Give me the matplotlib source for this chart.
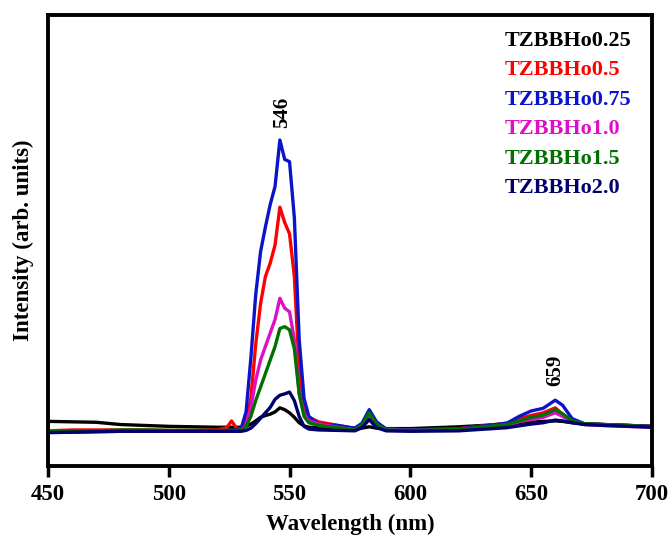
import matplotlib
matplotlib.use('Agg')
import matplotlib.pyplot as plt

plt.rcParams['font.family'] = ['Liberation Serif', 'DejaVu Serif']
plt.rcParams['font.weight'] = 'bold'

# comprimento de onda (nm)
wl = [450, 460, 470, 480, 490, 500, 510, 520, 524, 526, 528, 530, 532, 534,
      536, 538, 540, 542, 544, 546, 548, 550, 552, 554, 556, 558, 562, 570,
      577, 580, 583, 586, 590, 600, 620, 640, 645, 650, 655, 660, 663, 667,
      672, 680, 690, 700]

# intensidades (u.a.)
ho025 = [9.9, 9.8, 9.7, 9.2, 9.0, 8.8, 8.7, 8.6, 8.6, 8.6, 8.6, 8.6, 8.8, 9.3,
         10.0, 10.8, 11.2, 11.5, 12.0, 12.9, 12.5, 11.8, 10.8, 9.6, 8.9, 8.6,
         8.5, 8.4, 8.3, 8.4, 8.7, 8.4, 8.3, 8.3, 8.7, 9.3, 9.5, 9.7, 9.9, 10.0,
         9.9, 9.6, 9.4, 9.2, 9.0, 8.8]
ho05 = [7.8, 8.0, 8.0, 8.0, 8.0, 7.9, 7.9, 8.0, 8.5, 10.0, 8.4, 8.2, 10.0,
        15.0, 27.0, 36.0, 42.0, 45.0, 49.0, 57.4, 54.0, 51.5, 42.0, 21.0, 13.0,
        10.8, 9.8, 9.0, 8.3, 9.3, 11.5, 9.5, 8.2, 8.0, 8.3, 9.5, 10.5, 11.2,
        11.8, 12.9, 11.5, 10.0, 9.3, 9.2, 9.0, 8.8]
ho075 = [7.6, 7.5, 7.7, 7.8, 7.8, 7.8, 7.8, 7.8, 7.8, 7.9, 8.0, 8.4, 12.0,
         24.0, 38.0, 47.5, 53.0, 58.0, 62.0, 72.3, 68.0, 67.5, 55.0, 28.0,
         15.0, 11.0, 9.3, 9.0, 8.4, 9.5, 12.5, 9.8, 8.2, 8.0, 8.2, 9.5, 11.0,
         12.2, 12.8, 14.6, 13.5, 10.5, 9.4, 9.2, 9.0, 8.8]
ho10 = [7.5, 7.5, 7.6, 7.7, 7.7, 7.7, 7.7, 7.7, 7.7, 7.8, 7.8, 8.0, 9.0, 13.0,
        19.0, 23.5, 26.5, 29.5, 32.5, 37.2, 35.0, 34.2, 28.0, 16.0, 11.5,
        10.0, 9.3, 8.6, 8.0, 9.0, 11.0, 9.0, 8.0, 7.9, 8.0, 9.0, 9.8, 10.3,
        10.8, 11.8, 11.0, 9.8, 9.2, 9.0, 8.8, 8.6]
ho15 = [7.6, 7.7, 7.8, 8.0, 8.0, 7.9, 7.9, 7.9, 7.9, 7.9, 7.9, 8.0, 8.8, 11.0,
        14.5, 17.5, 20.5, 23.5, 26.5, 30.5, 30.9, 30.2, 26.0, 16.0, 11.0, 9.6,
        9.0, 8.5, 8.0, 9.2, 11.8, 9.3, 8.0, 7.9, 8.1, 9.2, 10.0, 10.8, 11.3,
        12.5, 11.6, 10.0, 9.4, 9.2, 9.0, 8.7]
ho20 = [7.4, 7.5, 7.6, 7.7, 7.7, 7.7, 7.7, 7.7, 7.7, 7.7, 7.7, 7.7, 7.9, 8.4,
        9.4, 10.6, 11.8, 13.0, 14.8, 15.7, 16.0, 16.4, 14.5, 11.0, 8.8, 8.2,
        8.0, 7.9, 7.8, 8.5, 10.3, 8.5, 7.8, 7.7, 7.8, 8.5, 8.9, 9.3, 9.6, 10.2,
        10.0, 9.6, 9.2, 9.0, 8.8, 8.6]

series = [ho025, ho05, ho075, ho10, ho15, ho20]
labels = ['TZBBHo0.25', 'TZBBHo0.5', 'TZBBHo0.75', 'TZBBHo1.0',
          'TZBBHo1.5', 'TZBBHo2.0']
colors = ['#000000', '#ff0000', '#0a14c8', '#dd10c8', '#007000', '#00006e']

# picos anotados
peaks = [546, 659]
peak_y = [75, 17.7]

fig = plt.figure(figsize=(6.71, 5.40), dpi=100)
ax = fig.add_axes([0.0715, 0.137, 0.900, 0.835])

for y, lb, c in zip(series, labels, colors):
    ax.plot(wl, y, color=c, linewidth=2.4, label=lb)

for xp, yp in zip(peaks, peak_y):
    ax.text(xp + 1.1, yp, str(xp), rotation=90, ha='center', va='bottom',
            fontsize=15, fontweight='bold')

ax.set_xlim(450, 700)
ax.set_ylim(0, 100)
ax.set_xticks([450, 500, 550, 600, 650, 700])
ax.set_yticks([])
ax.tick_params(axis='x', direction='out', length=8, width=2.5,
               labelsize=16.5, pad=5)
for lbl in ax.get_xticklabels():
    lbl.set_fontweight('bold')
for sp in ax.spines.values():
    sp.set_linewidth(2.8)

ax.set_xlabel('Wavelength (nm)', fontsize=16.5, fontweight='bold',
              labelpad=6)
ax.set_ylabel('Intensity (arb. units)', fontsize=16.5, fontweight='bold',
              labelpad=10)

leg = ax.legend(loc='upper left', bbox_to_anchor=(0.757, 0.966),
                frameon=False, handlelength=0, handletextpad=0,
                borderpad=0, borderaxespad=0,
                labelcolor='linecolor', labelspacing=0.40,
                prop={'size': 16, 'weight': 'bold'})
for h in leg.legend_handles:
    h.set_visible(False)

fig.savefig('out.png', dpi=100)
